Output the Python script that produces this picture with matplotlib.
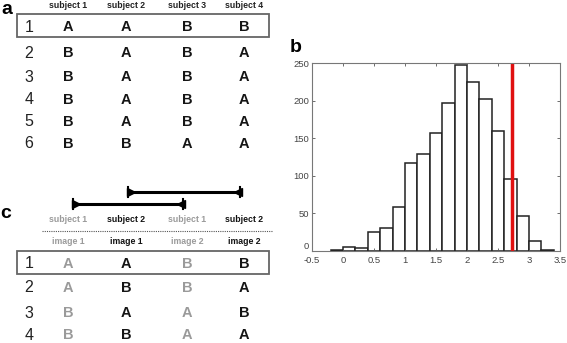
import matplotlib
matplotlib.use("Agg")
import matplotlib.pyplot as plt
from matplotlib.patches import Rectangle
import numpy as np

plt.rcParams['font.family'] = ['Liberation Sans', 'DejaVu Sans']

# ---------------- data ----------------
a_headers = ["subject 1", "subject 2", "subject 3", "subject 4"]
a_rows = ["1", "2", "3", "4", "5", "6"]
a_table = [
    ["A", "A", "B", "B"],
    ["B", "A", "B", "A"],
    ["B", "A", "B", "A"],
    ["B", "A", "B", "A"],
    ["B", "A", "B", "A"],
    ["B", "B", "A", "A"],
]

c_subjects = ["subject 1", "subject 2", "subject 1", "subject 2"]
c_images = ["image 1", "image 1", "image 2", "image 2"]
c_rows = ["1", "2", "3", "4"]
c_table = [
    ["A", "A", "B", "B"],
    ["A", "B", "B", "A"],
    ["B", "A", "A", "B"],
    ["B", "B", "A", "A"],
]

hist_edges = [-0.2, 0.0, 0.2, 0.4, 0.6, 0.8, 1.0, 1.2, 1.4, 1.6, 1.8,
              2.0, 2.2, 2.4, 2.6, 2.8, 3.0, 3.2, 3.4]
hist_counts = [1, 5, 4, 25, 30, 59, 117, 129, 157, 197, 248,
               225, 202, 160, 96, 47, 13, 1]
observed_value = 2.73
x_ticks = [-0.5, 0, 0.5, 1, 1.5, 2, 2.5, 3, 3.5]
x_ticklabels = ["-0.5", "0", "0.5", "1", "1.5", "2", "2.5", "3", "3.5"]
y_ticks = [0, 50, 100, 150, 200, 250]

# ---------------- figure ----------------
W, H = 567, 343
fig = plt.figure(figsize=(W / 100, H / 100), dpi=100)
bg = fig.add_axes([0, 0, 1, 1])
bg.set_xlim(0, W)
bg.set_ylim(H, 0)
bg.axis('off')

col_x = [68, 126, 187, 244]
row_num_x = 29
letter_fs = 10.5
num_fs = 11.5
head_fs = 6.3
gray = '#9a9a9a'
dark = '#151515'

# panel a
bg.text(7, 9, "a", fontsize=14, fontweight='bold', ha='center', va='center')
for x, h in zip(col_x, a_headers):
    bg.text(x, 5, h, fontsize=head_fs, fontweight='bold', ha='center', va='center', color='#222222')
a_row_y = [27, 53, 77, 100, 122, 144]
for y, rn, row in zip(a_row_y, a_rows, a_table):
    bg.text(row_num_x, y, rn, fontsize=num_fs, ha='center', va='center', color='#222222')
    for x, v in zip(col_x, row):
        bg.text(x, y, v, fontsize=letter_fs, fontweight='bold', ha='center', va='center', color=dark)
bg.add_patch(Rectangle((17, 14), 252, 23, fill=False, ec='#666666', lw=1.3))

# panel c
bg.text(6, 213, "c", fontsize=14, fontweight='bold', ha='center', va='center')
cols_gray = [True, False, True, False]
for x, s, im, g in zip(col_x, c_subjects, c_images, cols_gray):
    clr = gray if g else '#111111'
    bg.text(x, 219, s, fontsize=head_fs, fontweight='bold', ha='center', va='center', color=clr)
    bg.text(x, 241, im, fontsize=head_fs, fontweight='bold', ha='center', va='center', color=clr)
bg.plot([42, 273], [231, 231], ls=(0, (1, 1)), color='#555555', lw=0.8)

# comparison bars
for (x0, x1), y in [((128, 240), 192), ((73, 183), 204)]:
    bg.plot([x0, x1], [y, y], color='black', lw=2.2, solid_capstyle='butt')
    bg.plot([x0, x0], [y - 5, y + 5], color='black', lw=1.5)
    bg.plot([x1, x1], [y - 5, y + 5], color='black', lw=1.5)
    bg.plot([x0 + 2.5], [y], marker='>', color='black', ms=5.5)
    bg.plot([x1 - 2.5], [y], marker='<', color='black', ms=5.5)

c_row_y = [264, 288, 313, 335]
for y, rn, row in zip(c_row_y, c_rows, c_table):
    bg.text(row_num_x, y, rn, fontsize=num_fs, ha='center', va='center', color='#222222')
    for x, v, g in zip(col_x, row, cols_gray):
        bg.text(x, y, v, fontsize=letter_fs, fontweight='bold',
                ha='center', va='center', color=gray if g else dark)
bg.add_patch(Rectangle((17, 251), 252, 23, fill=False, ec='#666666', lw=1.3))

# panel b
bg.text(296, 47, "b", fontsize=14, fontweight='bold', ha='center', va='center')

L, R, T, B = 312, 560, 63, 251
ax = fig.add_axes([L / W, 1 - B / H, (R - L) / W, (B - T) / H])
edges = np.array(hist_edges)
ax.bar(edges[:-1], hist_counts, width=np.diff(edges), align='edge',
       facecolor='white', edgecolor='#222222', linewidth=1.1)
ax.axvline(observed_value, color='#e01010', lw=2.5)
ax.set_xlim(-0.5, 3.5)
ax.set_ylim(0, 250)
ax.set_xticks(x_ticks)
ax.set_xticklabels(x_ticklabels)
ax.set_yticks(y_ticks)
ax.tick_params(direction='in', length=2.5, width=0.6, labelsize=6.8, colors='#555555',
               top=True, right=True, pad=1)
ax.tick_params(axis='x', pad=3.5)
ax.tick_params(axis='y', pad=2)
for lbl in ax.get_xticklabels() + ax.get_yticklabels():
    lbl.set_color('#444444')
ax.get_yticklabels()[0].set_va('bottom')
for s in ax.spines.values():
    s.set_color('#777777')
    s.set_linewidth(0.8)

fig.savefig("out.png", dpi=100)
